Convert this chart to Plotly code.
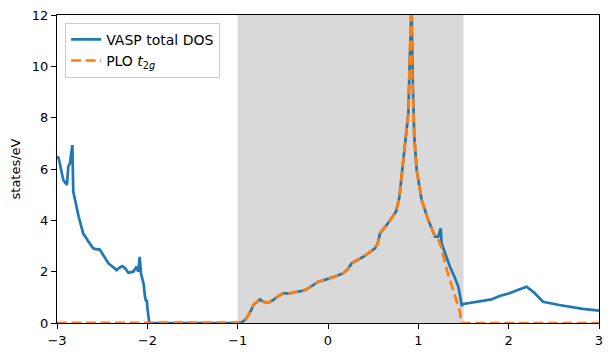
import plotly.graph_objects as go

# VASP total DOS
vasp_x = [-3.0, -2.985, -2.93, -2.89, -2.875, -2.857, -2.83, -2.82, -2.76, -2.71, -2.65,
          -2.60, -2.56, -2.53, -2.48, -2.43, -2.38, -2.34, -2.31, -2.28, -2.25, -2.21,
          -2.155, -2.12, -2.10, -2.085, -2.07, -2.04, -2.026, -2.015, -2.005, -2.0, -1.98,
          -1.975, -1.0, -0.96, -0.944, -0.91, -0.88, -0.85, -0.827, -0.79, -0.753, -0.72,
          -0.679, -0.64, -0.605, -0.55, -0.494, -0.44, -0.384, -0.30, -0.236, -0.17, -0.107,
          -0.05, 0.022, 0.10, 0.17, 0.22, 0.262, 0.33, 0.391, 0.46, 0.52, 0.55, 0.576,
          0.65, 0.70, 0.753, 0.79, 0.815, 0.852, 0.87, 0.89, 0.90, 0.915, 0.925, 0.937,
          0.955, 0.982, 1.037, 1.11, 1.185, 1.22, 1.247, 1.258, 1.30, 1.35, 1.40, 1.443,
          1.46, 1.48, 1.50, 1.60, 1.685, 1.81, 1.90, 2.01, 2.10, 2.20, 2.29, 2.38, 2.56,
          2.70, 2.82, 3.0]
vasp_y = [6.4, 6.48, 5.57, 5.38, 6.09, 6.22, 6.93, 5.12, 4.14, 3.49, 3.17,
          2.91, 2.87, 2.88, 2.6, 2.32, 2.18, 2.06, 2.15, 2.22, 2.15, 1.96,
          2.0, 2.19, 2.0, 2.58, 1.93, 1.5, 1.03, 0.85, 0.9, 0.6, 0.05,
          0.0, 0.0, 0.02, 0.05, 0.15, 0.31, 0.5, 0.70, 0.82, 0.92, 0.84,
          0.79, 0.83, 0.90, 1.05, 1.16, 1.15, 1.18, 1.24, 1.31, 1.45, 1.61,
          1.66, 1.74, 1.84, 1.94, 2.1, 2.33, 2.45, 2.58, 2.75, 2.91, 3.1, 3.49,
          3.82, 4.08, 4.34, 4.9, 5.70, 6.74, 7.3, 8.2, 9.6, 12.5, 12.5, 9.6,
          7.26, 5.96, 4.79, 4.01, 3.36, 3.36, 3.69, 3.10, 2.7, 2.19, 1.8, 1.41,
          1.09, 0.70, 0.74, 0.8, 0.87, 0.92, 1.05, 1.16, 1.29, 1.41, 1.16, 0.83, 0.70,
          0.62, 0.55, 0.48]

# PLO t2g
plo_x = [-3.0, -1.0, -0.96, -0.944, -0.91, -0.88, -0.85, -0.827, -0.79, -0.753, -0.72,
         -0.679, -0.64, -0.605, -0.55, -0.494, -0.44, -0.384, -0.30, -0.236, -0.17, -0.107,
         -0.05, 0.022, 0.10, 0.17, 0.22, 0.262, 0.33, 0.391, 0.46, 0.52, 0.55, 0.576,
         0.65, 0.70, 0.753, 0.79, 0.815, 0.852, 0.87, 0.89, 0.90, 0.912, 0.922, 0.934,
         0.955, 0.982, 1.037, 1.11, 1.185, 1.22, 1.25, 1.316, 1.41, 1.46, 1.475, 3.0]
plo_y = [0.0, 0.0, 0.02, 0.05, 0.15, 0.31, 0.5, 0.70, 0.82, 0.92, 0.84,
         0.79, 0.83, 0.90, 1.05, 1.16, 1.15, 1.18, 1.24, 1.31, 1.45, 1.61,
         1.66, 1.74, 1.84, 1.94, 2.1, 2.33, 2.45, 2.58, 2.75, 2.91, 3.1, 3.49,
         3.82, 4.08, 4.34, 4.9, 5.70, 6.74, 7.3, 8.2, 9.6, 12.5, 12.5, 9.6,
         7.26, 5.96, 4.79, 4.01, 3.36, 3.25, 3.0, 2.06, 1.03, 0.44, 0.0, 0.0]

window = [-1.0, 1.5]
x_ticks = [-3, -2, -1, 0, 1, 2, 3]
y_ticks = [0, 2, 4, 6, 8, 10, 12]

fig = go.Figure()
fig.add_shape(type="rect", xref="x", yref="paper", x0=window[0], x1=window[1], y0=0, y1=1,
              fillcolor="#d9d9d9", line_width=0, layer="below")
fig.add_trace(go.Scatter(x=vasp_x, y=vasp_y, mode="lines", name="VASP total DOS",
                         line=dict(color="#1f77b4", width=2.7)))
fig.add_trace(go.Scatter(x=plo_x, y=plo_y, mode="lines", name="PLO <i>t</i><sub>2<i>g</i></sub>",
                         line=dict(color="#ff7f0e", width=2.7, dash="10px,4.5px")))

axis_common = dict(showline=True, linecolor="black", linewidth=1, mirror=True,
                   ticks="outside", ticklen=5, tickwidth=1, tickcolor="black",
                   showgrid=False, zeroline=False, automargin=False,
                   ticklabeloverflow="allow",
                   tickfont=dict(family="DejaVu Sans", size=13, color="black"))
fig.update_xaxes(range=[-3, 3], tickvals=x_ticks, **axis_common)
fig.update_yaxes(range=[0, 12], tickvals=y_ticks,
                 title=dict(text="states/eV", font=dict(family="DejaVu Sans", size=13, color="black"),
                            standoff=8),
                 **axis_common)

# page body has an 8px default margin: size the figure so the plot area lands where the reference's does
fig.update_layout(
    width=605, height=349,
    margin=dict(l=49, r=14, t=7, b=34, autoexpand=False),
    plot_bgcolor="white", paper_bgcolor="white",
    font=dict(family="DejaVu Sans", size=13, color="black"),
    showlegend=True,
    legend=dict(x=0.015, y=0.975, xanchor="left", yanchor="top",
                bgcolor="rgba(255,255,255,0.8)", bordercolor="#cccccc", borderwidth=1,
                font=dict(family="DejaVu Sans", size=14, color="black"),
                itemwidth=30, tracegroupgap=0),
)

fig.write_html("out.html")
